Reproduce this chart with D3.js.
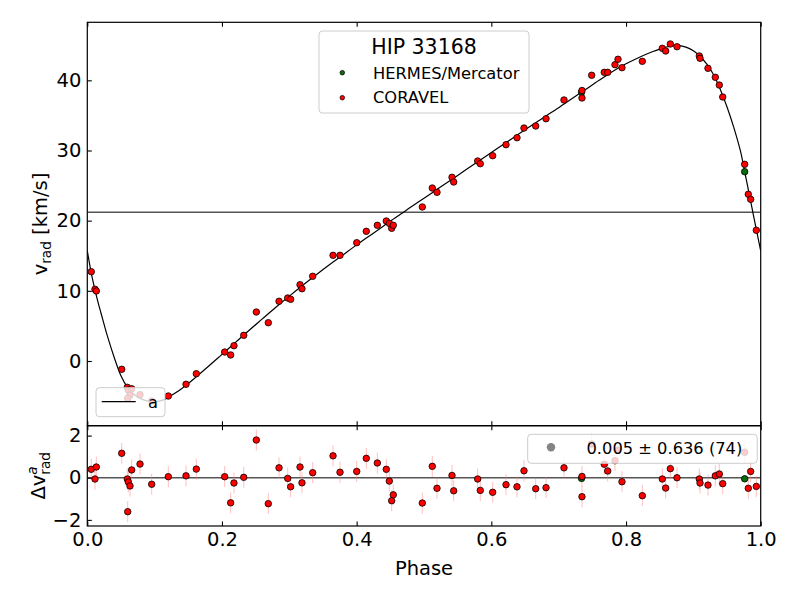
<!DOCTYPE html>
<html><head><meta charset="utf-8">
<script src="https://cdn.jsdelivr.net/npm/d3@7"></script>
<style>body{margin:0;background:#fff} text{font-family:"DejaVu Sans",sans-serif;fill:#000}</style>
</head><body><svg id="c" width="800" height="600"></svg>
<script>
// ---------- DATA ----------
const coravelPhase = [0.0059,0.0114,0.0134,0.0511,0.0594,0.0609,0.0634,0.0600,0.0659,0.0783,
 0.0956,0.1203,0.1466,0.1619,0.2040,0.2129,0.2178,0.2323,0.2510,0.2688,0.2847,0.2976,0.3020,
 0.3159,0.3188,0.3347,0.3649,0.3753,0.4001,0.4143,0.4307,0.4440,0.4485,0.4520,0.4544,0.4975,
 0.5123,0.5193,0.5416,0.5441,0.5797,0.5836,0.6020,0.6218,0.6381,0.6485,0.6659,0.6812,
 0.7079,0.7346,0.7346,0.7490,0.7677,0.7728,0.7836,0.7881,0.7940,0.8242,0.8539,0.8589,0.8658,
 0.8757,0.9088,0.9099,0.9217,0.9326,0.9385,0.9436,0.9762,0.9816,0.9851,0.9935];
const coravelRV = [12.73,10.22,9.98,-1.18,-3.75,-4.13,-4.85,-5.32,-3.95,-4.80,
 -5.70,-4.99,-3.32,-1.81,1.28,0.86,2.18,3.66,6.98,5.46,8.51,8.98,8.79,
 10.87,10.30,12.07,15.06,15.06,16.86,18.48,19.34,19.95,19.62,18.91,19.34,21.95,
 24.65,24.04,26.18,25.51,28.50,28.12,29.26,30.83,31.82,33.20,33.49,34.53,
 37.20,38.55,37.48,40.72,41.14,41.14,42.23,43.00,41.80,42.71,44.56,44.18,45.18,
 44.79,43.47,43.14,41.71,40.43,39.33,37.62,28.03,23.76,23.04,18.63];
const coravelRes = [0.40,-0.06,0.51,1.16,-0.06,-0.20,-0.39,-1.61,0.37,0.65,
 -0.31,0.05,0.09,0.41,0.05,-1.19,-0.25,0.02,1.79,-1.23,0.47,-0.03,-0.43,
 0.51,-0.24,0.24,1.04,0.26,0.30,0.92,0.70,0.40,-0.16,-1.09,-0.81,-1.20,
 0.54,-0.50,0.11,-0.62,-0.06,-0.60,-0.69,-0.33,-0.43,0.33,-0.52,-0.47,
 0.47,0.06,-0.90,1.60,0.64,0.32,0.81,1.30,-0.19,-0.85,-0.06,-0.49,0.43,
 0.00,-0.06,-0.25,-0.35,0.09,0.18,-0.28,1.21,-0.50,0.30,-0.41];
const coravelErr = 0.5;
const hermesPhase = [0.7340,0.9762];
const hermesRV = [38.30,26.98];
const hermesRes = [-0.03,-0.05];
const modelPhase = [0,0.005,0.01,0.015,0.02,0.03,0.04,0.05,0.06,0.07,0.08,0.09,0.10,0.11,0.12,0.13,0.14,0.15,0.16,
 0.18,0.20,0.22,0.24,0.26,0.28,0.30,0.32,0.34,0.36,0.38,0.40,0.42,0.44,0.46,0.48,0.50,0.52,0.54,0.56,0.58,
 0.60,0.62,0.64,0.66,0.68,0.70,0.72,0.74,0.76,0.78,0.80,0.82,0.84,0.85,0.86,0.87,0.88,0.89,0.90,0.91,0.92,
 0.93,0.94,0.95,0.96,0.97,0.975,0.98,0.985,0.99,0.995,1.0];
const modelRV = [15.7,13.0,10.7,8.7,6.95,3.5,0.5,-2.1,-3.8,-4.8,-5.4,-5.7,-5.8,-5.65,-5.2,-4.6,-3.95,-3.2,-2.4,
 -0.75,0.95,2.65,4.35,6.0,7.65,9.25,10.8,12.3,13.75,15.15,16.55,17.9,19.25,20.6,21.9,23.2,24.5,25.8,27.1,28.4,
 29.7,31.0,32.3,33.6,34.85,36.1,37.4,38.7,40.0,41.25,42.35,43.3,44.1,44.45,44.75,44.95,44.95,44.7,44.2,43.4,42.3,
 40.8,38.7,36.2,33.3,29.9,27.6,25.2,22.8,20.4,18.05,15.7];
const systemicVel = 21.2;
const starName = "HIP 33168";
const legendLabels = ["HERMES/Mercator","CORAVEL"];
const resSummary = "0.005 ± 0.636 (74)";
const xTicks = [0,0.2,0.4,0.6,0.8,1.0];
const yTicksTop = [0,10,20,30,40];
const yTicksRes = [-2,0,2];

// ---------- LAYOUT ----------
const L = 87.3, R = 760.7, T1 = 22.3, B1 = 425.7, T2 = 425.7, B2 = 526;
const svg = d3.select("#c");
const x = d3.scaleLinear().domain([0,1]).range([L,R]);
const y1 = d3.scaleLinear().domain([-9.22,48.27]).range([B1,T1]);
const y2 = d3.scaleLinear().domain([-2.29,2.47]).range([B2,T2]);
const FS = 19.5;
const GREEN = "#0b6a0b";

const defs = svg.append("defs");
defs.append("clipPath").attr("id","cp1").append("rect").attr("x",L).attr("y",T1).attr("width",R-L).attr("height",B1-T1);
defs.append("clipPath").attr("id","cp2").append("rect").attr("x",L).attr("y",T2).attr("width",R-L).attr("height",B2-T2);

// ---------- TOP PANEL ----------
const g1 = svg.append("g").attr("clip-path","url(#cp1)");
g1.append("line").attr("x1",L).attr("x2",R).attr("y1",y1(systemicVel)).attr("y2",y1(systemicVel))
  .attr("stroke","#555").attr("stroke-width",1.6);
const modelData = modelPhase.map((p,i)=>[p,modelRV[i]]);
g1.append("path").datum(modelData)
  .attr("d", d3.line().x(d=>x(d[0])).y(d=>y1(d[1])).curve(d3.curveCatmullRom.alpha(0.5)))
  .attr("fill","none").attr("stroke","#000").attr("stroke-width",1.2);
const cor = coravelPhase.map((p,i)=>({p, v:coravelRV[i], r:coravelRes[i]}));
const her = hermesPhase.map((p,i)=>({p, v:hermesRV[i], r:hermesRes[i]}));
const MR = 3.25;
g1.selectAll(".hp").data(her).join("circle").attr("cx",d=>x(d.p)).attr("cy",d=>y1(d.v)).attr("r",MR)
  .attr("fill",GREEN).attr("stroke","#000").attr("stroke-width",0.8);
g1.selectAll(".cp").data(cor).join("circle").attr("cx",d=>x(d.p)).attr("cy",d=>y1(d.v)).attr("r",MR)
  .attr("fill","#ff0000").attr("stroke","#000").attr("stroke-width",0.8);

// axes top panel
function yAxis(scale, ticks){
  return d3.axisLeft(scale).tickValues(ticks).tickSize(-4.5).tickPadding(6).tickFormat(d=>d3.format("d")(d).replace("-","\u2212"));
}
function styleAxis(g){
  g.select(".domain").remove();
  g.selectAll(".tick line").attr("stroke","#000").attr("stroke-width",1.1);
  g.selectAll(".tick text").style("font-family","DejaVu Sans").style("font-size",FS+"px").attr("fill","#000");
}
svg.append("g").attr("transform",`translate(${L},0)`).call(yAxis(y1,yTicksTop)).call(styleAxis);
svg.append("g").attr("transform",`translate(0,${T1})`).call(d3.axisTop(x).tickValues(xTicks).tickSize(-4.5).tickFormat("")).call(styleAxis);
svg.append("g").attr("transform",`translate(0,${B1})`).call(d3.axisBottom(x).tickValues(xTicks).tickSize(-4.5).tickFormat("")).call(styleAxis);

// ---------- RESIDUAL PANEL ----------
const g2 = svg.append("g").attr("clip-path","url(#cp2)");
g2.append("line").attr("x1",L).attr("x2",R).attr("y1",y2(0)).attr("y2",y2(0)).attr("stroke","#555").attr("stroke-width",1.6);
g2.selectAll(".eb").data(cor).join("line").attr("x1",d=>x(d.p)).attr("x2",d=>x(d.p))
  .attr("y1",d=>y2(d.r-coravelErr)).attr("y2",d=>y2(d.r+coravelErr))
  .attr("stroke","#ff8080").attr("stroke-opacity",0.5).attr("stroke-width",1);
g2.selectAll(".hr").data(her).join("circle").attr("cx",d=>x(d.p)).attr("cy",d=>y2(d.r)).attr("r",MR)
  .attr("fill",GREEN).attr("stroke","#000").attr("stroke-width",0.8);
g2.selectAll(".cr").data(cor).join("circle").attr("cx",d=>x(d.p)).attr("cy",d=>y2(d.r)).attr("r",MR)
  .attr("fill","#ff0000").attr("stroke","#000").attr("stroke-width",0.8);

svg.append("g").attr("transform",`translate(${L},0)`).call(yAxis(y2,yTicksRes)).call(styleAxis);
svg.append("g").attr("transform",`translate(0,${T2})`).call(d3.axisTop(x).tickValues(xTicks).tickSize(-4.5).tickFormat("")).call(styleAxis);
svg.append("g").attr("transform",`translate(0,${B2})`).call(d3.axisBottom(x).tickValues(xTicks).tickSize(-4.5).tickPadding(6).tickFormat(d3.format(".1f"))).call(styleAxis);

// frames
[[T1,B1],[T2,B2]].forEach(([t,b])=>{
  svg.append("rect").attr("x",L).attr("y",t).attr("width",R-L).attr("height",b-t)
    .attr("fill","none").attr("stroke","#000").attr("stroke-width",1.2);
});

// ---------- LEGENDS ----------
function box(x0,y0,w,h){
  svg.append("rect").attr("x",x0).attr("y",y0).attr("width",w).attr("height",h).attr("rx",3.5)
    .attr("fill","#fff").attr("fill-opacity",0.8).attr("stroke","#cccccc").attr("stroke-width",1);
}
// top legend
box(319,31,210,82);
svg.append("text").attr("x",424).attr("y",54).attr("text-anchor","middle").style("font-size","20.5px").text(starName);
svg.append("circle").attr("cx",342.3).attr("cy",72.7).attr("r",2.3).attr("fill",GREEN).attr("stroke","#000").attr("stroke-width",0.7);
svg.append("circle").attr("cx",342.3).attr("cy",97.7).attr("r",2.3).attr("fill","#ff0000").attr("stroke","#000").attr("stroke-width",0.7);
svg.append("text").attr("x",373).attr("y",78.5).style("font-size","16.3px").text(legendLabels[0]);
svg.append("text").attr("x",373).attr("y",103).style("font-size","16.3px").text(legendLabels[1]);

// model legend
box(96,387.7,69,29);
svg.append("line").attr("x1",101.7).attr("x2",135.7).attr("y1",401.7).attr("y2",401.7).attr("stroke","#000").attr("stroke-width",1.2);
svg.append("text").attr("x",148).attr("y",407.5).style("font-size","16.3px").text("a");

// residual legend
box(527.7,434.3,229.5,29);
svg.append("circle").attr("cx",551).attr("cy",447.3).attr("r",4.2).attr("fill","#777").attr("fill-opacity",0.9);
svg.append("text").attr("x",586.5).attr("y",453.5).style("font-size","16.3px").text(resSummary);

// ---------- AXIS LABELS ----------
svg.append("text").attr("x",(L+R)/2).attr("y",575).attr("text-anchor","middle").style("font-size",FS+"px").text("Phase");

const yl = svg.append("text").attr("transform",`translate(47,${(T1+B1)/2}) rotate(-90)`).attr("text-anchor","middle").style("font-size",FS+"px");
yl.append("tspan").text("v");
yl.append("tspan").attr("dy",4).style("font-size",(FS*0.7)+"px").text("rad");
yl.append("tspan").attr("dy",-4).text(" [km/s]");

const g3 = svg.append("g").attr("transform",`translate(45,${(T2+B2)/2}) rotate(-90)`);
const t1 = g3.append("text").style("font-size",FS+"px").text("\u0394v");
const w1 = t1.node().getComputedTextLength();
const ws = FS*0.7;
const tsub = g3.append("text").style("font-size",ws+"px").attr("x",w1).attr("y",4.5).text("rad");
const tsup = g3.append("text").style("font-size",ws+"px").style("font-style","italic").attr("x",w1).attr("y",-8).text("a");
const wsub = tsub.node().getComputedTextLength();
const tot = w1 + wsub;
[t1,tsub,tsup].forEach(t=>t.attr("x", +t.attr("x") - tot/2));
</script></body></html>
